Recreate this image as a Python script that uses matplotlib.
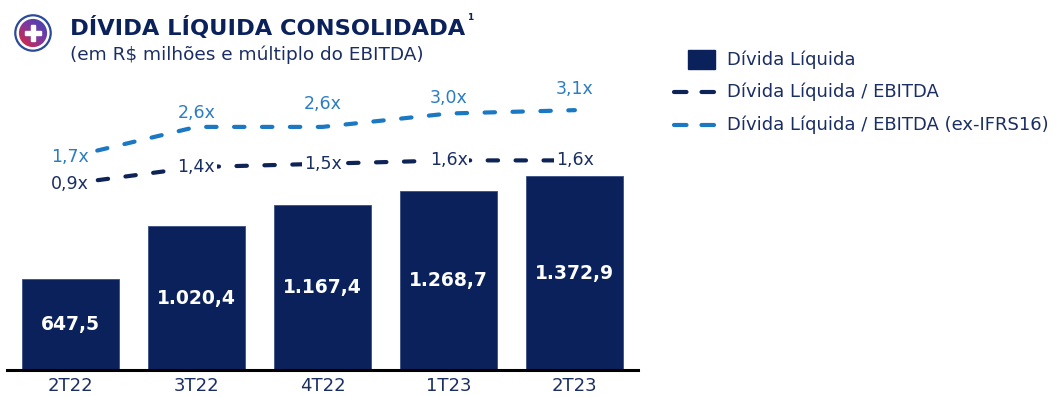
import numpy as np
import matplotlib
matplotlib.use("Agg")
import matplotlib.pyplot as plt
from matplotlib.patches import Circle, Rectangle
from matplotlib.lines import Line2D

plt.rcParams['font.family'] = ['DejaVu Sans']

# ---- data ----
quarters = ["2T22", "3T22", "4T22", "1T23", "2T23"]
net_debt = [647.5, 1020.4, 1167.4, 1268.7, 1372.9]
lev_ebitda = [0.9, 1.4, 1.5, 1.6, 1.6]
lev_ex_ifrs16 = [1.7, 2.6, 2.6, 3.0, 3.1]

# ---- style ----
NAVY = "#0A215C"
NAVY_TXT = "#1B2E63"
DARK_LINE = "#0E2457"
LIGHT = "#1B78C2"
LIGHT_TXT = "#2B7CC1"
LW = 3.0
DASH = (2.5, 4.2)

W, H = 1055, 397
fig = plt.figure(figsize=(W / 100, H / 100), dpi=100)

ax = fig.add_axes([7 / W, (H - 370) / H, (638 - 7) / W, 290 / H])
x = np.arange(len(quarters))
bars = ax.bar(x, net_debt, width=0.77, color=NAVY, edgecolor="#3A4F85", linewidth=0.6, zorder=2)
ax.set_xlim(-0.5, 4.5)
ax.set_ylim(0, 2057)
for b, v in zip(bars, net_debt):
    txt = f"{v:,.1f}".replace(",", "X").replace(".", ",").replace("X", ".")
    ax.text(b.get_x() + b.get_width() / 2, v / 2, txt, ha="center", va="center",
            color="white", fontsize=13.5, fontweight="bold", zorder=3)

ax.set_xticks(x)
ax.set_xticklabels(quarters, fontsize=13, color=NAVY_TXT)
ax.tick_params(axis="x", length=0, pad=5)
ax.set_yticks([])
for s in ["top", "left", "right"]:
    ax.spines[s].set_visible(False)
ax.spines["bottom"].set_color("black")
ax.spines["bottom"].set_linewidth(2.2)
ax.spines["bottom"].set_zorder(4)

# secondary scale for the leverage multiples
ax2 = ax.twinx()
ax2.set_ylim(-4.657, 4.0)
ax2.set_yticks([])
for s in ax2.spines.values():
    s.set_visible(False)

l1, = ax2.plot(x, lev_ebitda, color=DARK_LINE, lw=LW, dashes=DASH,
               dash_capstyle="round", zorder=3)
l2, = ax2.plot(x, lev_ex_ifrs16, color=LIGHT, lw=LW, dashes=DASH,
               dash_capstyle="round", zorder=3)

def fmt(v):
    return f"{v:.1f}x".replace(".", ",")

for xi, v in zip(x, lev_ebitda):
    ax2.text(xi, v, fmt(v), ha="center", va="center", fontsize=12.5, color=NAVY_TXT,
             zorder=5, bbox=dict(boxstyle="square,pad=0.1", fc="white", ec="none"))

light_offsets = [0, 14, 23, 15, 21]
for xi, v, off in zip(x, lev_ex_ifrs16, light_offsets):
    box = dict(boxstyle="square,pad=0.1", fc="white", ec="none") if off == 0 else None
    ax2.annotate(fmt(v), (xi, v), xytext=(0, off * 0.72), textcoords="offset points",
                 ha="center", va="center", fontsize=12.5, color=LIGHT_TXT, zorder=5,
                 bbox=box)

# ---- title block ----
title = fig.text(70 / W, 1 - 27 / H, "DÍVIDA LÍQUIDA CONSOLIDADA", ha="left",
                 va="center", fontsize=16.2, fontweight="bold", color=NAVY)
renderer = fig.canvas.get_renderer()
tb = title.get_window_extent(renderer)
fig.text((tb.x1 + 2) / W, 1 - 18 / H, "1", ha="left", va="center", fontsize=6.5,
         fontweight="bold", color=NAVY)
fig.text(70 / W, 1 - 55 / H, "(em R$ milhões e múltiplo do EBITDA)", ha="left",
         va="center", fontsize=13.3, color=NAVY_TXT)

# ---- logo ----
lax = fig.add_axes([13 / W, 1 - 53 / H, 40 / W, 40 / H])
lax.set_xlim(-1.05, 1.05)
lax.set_ylim(-1.05, 1.05)
lax.set_aspect("equal")
lax.axis("off")
gx, gy = np.meshgrid(np.linspace(-1, 1, 120), np.linspace(-1, 1, 120))
t = np.clip((gx - gy + 1.4) / 2.8, 0, 1)
c0 = np.array([0.88, 0.15, 0.22])
c1 = np.array([0.50, 0.22, 0.62])
c2 = np.array([0.22, 0.28, 0.72])
rgb = np.where(t[..., None] < 0.5,
               c0 + (c1 - c0) * (t[..., None] / 0.5),
               c1 + (c2 - c1) * ((t[..., None] - 0.5) / 0.5))
im = lax.imshow(rgb, extent=(-1, 1, -1, 1), origin="upper")
clip = Circle((0, 0), 0.74, transform=lax.transData)
im.set_clip_path(clip)
lax.add_patch(Circle((0, 0), 0.93, fill=False, ec="#2B4A9A", lw=1.6))
lax.add_patch(Rectangle((-0.13, -0.42), 0.26, 0.84, color="white", zorder=3))
lax.add_patch(Rectangle((-0.42, -0.13), 0.84, 0.26, color="white", zorder=3))

# ---- legend ----
fig.patches.append(Rectangle((688 / W, 1 - 69 / H), 27 / W, 19 / H,
                             transform=fig.transFigure, color=NAVY))
for yy, col in [(92, DARK_LINE), (125, LIGHT)]:
    fig.lines.append(Line2D([674 / W, 715 / W], [1 - yy / H, 1 - yy / H],
                            transform=fig.transFigure, color=col, lw=LW,
                            dashes=(3.0, 3.6), dash_capstyle="round"))
legend_labels = ["Dívida Líquida", "Dívida Líquida / EBITDA",
                 "Dívida Líquida / EBITDA (ex-IFRS16)"]
for yy, lab in zip([60, 92, 125], legend_labels):
    fig.text(727 / W, 1 - yy / H, lab, ha="left", va="center", fontsize=13,
             color=NAVY_TXT)

fig.savefig("out.png", dpi=100)
